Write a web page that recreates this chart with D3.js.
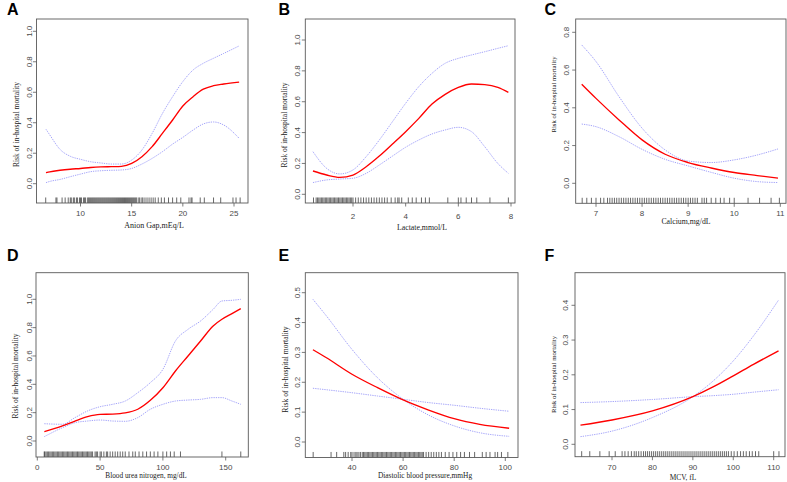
<!DOCTYPE html>
<html><head><meta charset="utf-8">
<script src="https://cdn.jsdelivr.net/npm/d3@7"></script>
<style>body{margin:0;background:#fff}svg{display:block}</style></head>
<body><svg id="c" width="787" height="482"></svg>
<script>
// ---------------- DATA ----------------
const panelLetters = ["A", "B", "C", "D", "E", "F"];
const xLabels = ["Anion Gap,mEq/L", "Lactate,mmol/L", "Calcium,mg/dL",
  "Blood urea nitrogen, mg/dL", "Diastolic blood pressure,mmHg", "MCV, fL"];
const yLabel = "Risk of in-hospital mortality";

const xTicksA = [10, 15, 20, 25];
const yTicksA = [0, 0.2, 0.4, 0.6, 0.8, 1.0];
const xA = [6.63, 7, 8, 9, 10, 11, 12, 13, 14, 15, 16, 17, 18, 19, 20, 21, 22, 23, 24, 25.5];
const fitA = [0.072, 0.078, 0.088, 0.095, 0.10, 0.106, 0.11, 0.112, 0.114, 0.133, 0.177, 0.243, 0.33, 0.418, 0.51, 0.571, 0.62, 0.643, 0.654, 0.667];
const upA = [0.357, 0.32, 0.225, 0.18, 0.16, 0.144, 0.136, 0.129, 0.129, 0.155, 0.221, 0.33, 0.46, 0.571, 0.67, 0.746, 0.79, 0.823, 0.855, 0.904];
const loA = [0.007, 0.015, 0.028, 0.046, 0.063, 0.079, 0.085, 0.088, 0.09, 0.10, 0.129, 0.166, 0.21, 0.26, 0.304, 0.352, 0.392, 0.405, 0.385, 0.298];
const rugA = [6.6, 7.6, 7.7, 8.2, 8.5, 8.8, 9.0, 9.1, 9.3, 9.4, 9.6, 9.7, 9.9, 10.0, 10.1, 10.3, 10.4, 10.5, 10.7, 10.8, 10.9, 11.0, 11.1, 11.2, 11.3, 11.4, 11.5, 11.6, 11.7, 11.8, 11.9, 12.0, 12.1, 12.2, 12.3, 12.4, 12.5, 12.6, 12.7, 12.8, 12.9, 13.0, 13.1, 13.2, 13.3, 13.4, 13.5, 13.6, 13.7, 13.8, 13.9, 14.0, 14.1, 14.2, 14.3, 14.4, 14.5, 14.6, 14.7, 14.8, 14.9, 15.0, 15.1, 15.2, 15.3, 15.4, 15.5, 15.7, 15.8, 16.0, 16.1, 16.3, 16.5, 16.7, 16.9, 17.1, 17.3, 17.6, 17.9, 18.2, 18.6, 19.0, 19.4, 19.8, 20.6, 20.8, 20.9, 21.7, 22.1, 23.0, 23.7, 24.9, 25.2, 25.6];

const xTicksB = [2, 4, 6, 8];
const yTicksB = [0, 0.2, 0.4, 0.6, 0.8, 1.0];
const xB = [0.48, 1, 1.5, 2, 2.5, 3, 3.5, 4, 4.5, 5, 5.5, 6, 6.5, 7, 7.5, 7.9];
const fitB = [0.151, 0.125, 0.11, 0.125, 0.179, 0.248, 0.326, 0.406, 0.492, 0.585, 0.648, 0.693, 0.715, 0.711, 0.693, 0.661];
const upB = [0.276, 0.168, 0.132, 0.158, 0.244, 0.352, 0.471, 0.59, 0.698, 0.784, 0.849, 0.881, 0.903, 0.924, 0.946, 0.963];
const loB = [0.076, 0.093, 0.099, 0.104, 0.136, 0.19, 0.248, 0.305, 0.352, 0.391, 0.417, 0.434, 0.406, 0.309, 0.2, 0.136];
const rugB = [0.5, 0.6, 0.65, 0.7, 0.75, 0.8, 0.85, 0.9, 0.95, 1.0, 1.05, 1.1, 1.15, 1.2, 1.25, 1.3, 1.35, 1.4, 1.45, 1.5, 1.55, 1.6, 1.65, 1.7, 1.75, 1.8, 1.85, 1.9, 1.95, 2.0, 2.1, 2.2, 2.3, 2.4, 2.5, 2.6, 2.7, 2.8, 2.9, 3.0, 3.1, 3.2, 3.3, 3.45, 3.6, 3.7, 3.75, 3.85, 4.1, 4.25, 4.4, 4.6, 4.75, 4.9, 5.6, 6.0, 6.1, 6.3, 6.5, 6.7, 7.2, 7.9];

const xTicksC = [7, 8, 9, 10, 11];
const yTicksC = [0, 0.2, 0.4, 0.6, 0.8];
const xC = [6.69, 7, 7.5, 8, 8.5, 9, 9.5, 10, 10.5, 10.95];
const fitC = [0.525, 0.45, 0.336, 0.23, 0.154, 0.11, 0.081, 0.057, 0.041, 0.027];
const upC = [0.733, 0.645, 0.459, 0.292, 0.177, 0.118, 0.11, 0.124, 0.15, 0.182];
const loC = [0.314, 0.30, 0.247, 0.18, 0.127, 0.092, 0.058, 0.027, 0.009, 0.004];
const rugC = [6.7, 6.8, 6.9, 7.0, 7.1, 7.17, 7.25, 7.3, 7.35, 7.4, 7.45, 7.5, 7.55, 7.6, 7.65, 7.7, 7.75, 7.8, 7.85, 7.9, 7.95, 8.0, 8.05, 8.1, 8.15, 8.2, 8.25, 8.3, 8.35, 8.4, 8.45, 8.5, 8.55, 8.6, 8.65, 8.7, 8.75, 8.8, 8.85, 8.9, 8.95, 9.0, 9.05, 9.1, 9.15, 9.2, 9.3, 9.35, 9.4, 9.5, 9.6, 9.7, 9.78, 9.9, 10.0, 10.3, 10.55, 10.8, 10.98];

const xTicksD = [0, 50, 100, 150];
const yTicksD = [0, 0.2, 0.4, 0.6, 0.8, 1.0];
const xD = [5.6, 20, 30, 40, 50, 60, 70, 80, 90, 100, 110, 120, 130, 140, 147, 155, 162];
const fitD = [0.066, 0.106, 0.141, 0.172, 0.188, 0.19, 0.198, 0.224, 0.287, 0.376, 0.494, 0.6, 0.706, 0.812, 0.859, 0.899, 0.934];
const upD = [0.122, 0.118, 0.165, 0.212, 0.242, 0.259, 0.282, 0.341, 0.412, 0.506, 0.706, 0.788, 0.847, 0.929, 0.988, 0.993, 1.0];
const loD = [0.031, 0.094, 0.129, 0.141, 0.148, 0.141, 0.139, 0.165, 0.224, 0.259, 0.282, 0.289, 0.294, 0.306, 0.306, 0.282, 0.259];
const rugD = [5.5, 6, 7, 8, 9, 10, 11, 12, 13, 14, 15, 16, 17, 18, 19, 20, 21, 22, 23, 24, 25, 26, 27, 28, 29, 30, 31, 32, 33, 34, 35, 36, 37, 38, 39, 40, 41, 42, 43, 44, 46, 47, 48, 50, 51, 53, 55, 56, 58, 60, 62, 64, 66, 68, 70, 73, 76, 78, 81, 84, 87, 90, 93, 96, 100, 103, 106, 109, 114, 147, 162];

const xTicksE = [40, 60, 80, 100];
const yTicksE = [0, 0.1, 0.2, 0.3, 0.4, 0.5];
const xE = [24.7, 30, 40, 50, 60, 70, 80, 90, 101.5];
const fitE = [0.309, 0.282, 0.227, 0.182, 0.141, 0.107, 0.078, 0.059, 0.046];
const upE = [0.478, 0.422, 0.31, 0.215, 0.143, 0.09, 0.054, 0.031, 0.019];
const loE = [0.18, 0.175, 0.165, 0.154, 0.143, 0.132, 0.123, 0.113, 0.103];
const rugE = [24.8, 31.8, 34, 36.8, 37.5, 38.5, 39.5, 40, 40.8, 41.5, 42, 42.7, 43.3, 44, 44.5, 45, 45.5, 46, 46.5, 47, 47.5, 48, 48.5, 49, 49.5, 50, 50.5, 51, 51.5, 52, 52.5, 53, 53.5, 54, 54.5, 55, 55.5, 56, 56.5, 57, 57.5, 58, 58.5, 59, 59.5, 60, 60.5, 61, 61.5, 62, 62.5, 63, 63.5, 64, 64.5, 65, 65.5, 66, 66.5, 67, 67.5, 68, 69, 70, 71, 72, 73, 74, 75, 76.5, 78, 79.5, 81, 82.5, 84, 86, 88, 91, 92.5, 94, 96, 97, 98.5, 101];

const xTicksF = [70, 80, 90, 100, 110];
const yTicksF = [0, 0.1, 0.2, 0.3, 0.4];
const xF = [62.2, 70, 80, 90, 95, 100, 105, 111.2];
const fitF = [0.055, 0.07, 0.096, 0.137, 0.165, 0.197, 0.23, 0.269];
const upF = [0.022, 0.038, 0.077, 0.137, 0.182, 0.24, 0.312, 0.415];
const loF = [0.12, 0.123, 0.129, 0.137, 0.14, 0.144, 0.15, 0.157];
const rugF = [62.5, 64.5, 67, 69.3, 70.8, 72.5, 73.2, 74, 74.8, 75.5, 76, 76.6, 77.2, 77.8, 78.3, 78.8, 79.3, 79.8, 80.3, 80.8, 81.3, 81.8, 82.3, 82.8, 83.3, 83.8, 84.3, 84.8, 85.3, 85.8, 86.3, 86.8, 87.3, 87.8, 88.3, 88.8, 89.3, 89.8, 90.3, 90.8, 91.3, 91.8, 92.3, 92.8, 93.3, 93.8, 94.3, 94.8, 95.3, 95.8, 96.3, 96.8, 97.3, 97.8, 98.3, 98.8, 99.5, 100.2, 101, 101.8, 102.5, 103.2, 104, 104.7, 105.5, 106.3, 110, 111.3];

// ---------------- LAYOUT (pixel geometry only) ----------------
const layouts = [
  {box:[36.5,19,248,203], xr:[10,80.5,25,234], yr:[0,183.7,1,31.3], letter:[7,15], xl:[154,228,8], yl:[18.5,124.5,7.5], ytx:31.5, xty:216},
  {box:[305.3,19,515,203], xr:[2,353,8,511], yr:[0,194.3,1,40], letter:[278.5,15], xl:[422,230,7.8], yl:[287,125,7.5], ytx:300.3, xty:218.5},
  {box:[575.7,19,786,203.3], xr:[7,596,11,780.3], yr:[0,183.3,0.8,32.3], letter:[544.5,15], xl:[686,224,7.8], yl:[555.5,94.5,6.7], ytx:569, xty:215.5},
  {box:[36,272.7,248.3,457], xr:[0,37.3,150,225.7], yr:[0,441,1,299.3], letter:[7,260.5], xl:[146,478,7.3], yl:[18.3,376,7.5], ytx:31.7, xty:469.5},
  {box:[305.3,272.7,518,457.5], xr:[40,352,100,505.3], yr:[0,442,0.5,292.7], letter:[278.5,260.5], xl:[425,478,7.4], yl:[287.5,369.5,7.6], ytx:300.3, xty:470},
  {box:[575,272.7,785,456.7], xr:[70,612,110,773.7], yr:[0,444.3,0.4,305.3], letter:[544.5,260.5], xl:[683,479.5,7.4], yl:[555.5,374.5,6.8], ytx:568.3, xty:470}
];

const panels = [
  {x:xA, fit:fitA, ci1:upA, ci2:loA, rug:rugA, xt:xTicksA, yt:yTicksA},
  {x:xB, fit:fitB, ci1:upB, ci2:loB, rug:rugB, xt:xTicksB, yt:yTicksB},
  {x:xC, fit:fitC, ci1:upC, ci2:loC, rug:rugC, xt:xTicksC, yt:yTicksC},
  {x:xD, fit:fitD, ci1:upD, ci2:loD, rug:rugD, xt:xTicksD, yt:yTicksD},
  {x:xE, fit:fitE, ci1:upE, ci2:loE, rug:rugE, xt:xTicksE, yt:yTicksE},
  {x:xF, fit:fitF, ci1:upF, ci2:loF, rug:rugF, xt:xTicksF, yt:yTicksF}
];

const svg = d3.select("#c");
const SANS = "'Liberation Sans', Arial, Helvetica, sans-serif";
const SERIF = "'Liberation Serif', 'Times New Roman', serif";
const boxCol = "#5a5a5a", tickTxt = "#4a4a4a";

panels.forEach((p, i) => {
  const L = layouts[i];
  const [bl, bt, br, bb] = L.box;
  const x = d3.scaleLinear().domain([L.xr[0], L.xr[2]]).range([L.xr[1], L.xr[3]]);
  const y = d3.scaleLinear().domain([L.yr[0], L.yr[2]]).range([L.yr[1], L.yr[3]]);
  const g = svg.append("g");

  const clipId = "clip" + i;
  svg.append("clipPath").attr("id", clipId).append("rect")
    .attr("x", bl).attr("y", bt).attr("width", br - bl).attr("height", bb - bt);

  // rug
  const rugLen = 0.03 * (bb - bt);
  g.append("g").selectAll("line").data(p.rug).join("line")
    .attr("x1", d => x(d)).attr("x2", d => x(d))
    .attr("y1", bb).attr("y2", bb - rugLen)
    .attr("stroke", "#000").attr("stroke-width", 0.8).attr("stroke-opacity", 0.75);

  const pts = (ys) => p.x.map((v, k) => [x(v), y(ys[k])]);
  const line = d3.line().curve(d3.curveMonotoneX);
  const plot = g.append("g").attr("clip-path", `url(#${clipId})`);
  [p.ci1, p.ci2].forEach(s => {
    plot.append("path").attr("d", line(pts(s))).attr("fill", "none")
      .attr("stroke", "#9a9af8").attr("stroke-width", 0.9).attr("stroke-dasharray", "1.3,1");
  });
  plot.append("path").attr("d", line(pts(p.fit))).attr("fill", "none")
    .attr("stroke", "#ff0000").attr("stroke-width", 1.35);

  // box
  g.append("rect").attr("x", bl).attr("y", bt).attr("width", br - bl).attr("height", bb - bt)
    .attr("fill", "none").attr("stroke", boxCol).attr("stroke-width", 0.9);

  // x axis ticks
  const xa = g.append("g");
  xa.selectAll("line").data(p.xt).join("line")
    .attr("x1", d => x(d)).attr("x2", d => x(d)).attr("y1", bb).attr("y2", bb + 3.5)
    .attr("stroke", boxCol).attr("stroke-width", 0.8);
  xa.selectAll("text").data(p.xt).join("text")
    .attr("x", d => x(d)).attr("y", L.xty).attr("text-anchor", "middle")
    .attr("font-family", SANS).attr("font-size", 8).attr("fill", tickTxt)
    .text(d => d3.format("d")(d));

  // y axis ticks
  const ya = g.append("g");
  ya.selectAll("line").data(p.yt).join("line")
    .attr("x1", bl).attr("x2", bl - 3.5).attr("y1", d => y(d)).attr("y2", d => y(d))
    .attr("stroke", boxCol).attr("stroke-width", 0.8);
  ya.selectAll("text").data(p.yt).join("text")
    .attr("transform", d => `translate(${L.ytx},${y(d)}) rotate(-90)`)
    .attr("text-anchor", "middle")
    .attr("font-family", SANS).attr("font-size", 8).attr("fill", tickTxt)
    .text(d => d3.format(".1f")(d));

  // labels
  g.append("text").attr("x", L.xl[0]).attr("y", L.xl[1]).attr("text-anchor", "middle")
    .attr("font-family", SERIF).attr("font-size", L.xl[2]).attr("fill", "#222").text(xLabels[i]);
  g.append("text").attr("transform", `translate(${L.yl[0]},${L.yl[1]}) rotate(-90)`)
    .attr("text-anchor", "middle")
    .attr("font-family", SERIF).attr("font-size", L.yl[2]).attr("fill", "#222").text(yLabel);
  g.append("text").attr("x", L.letter[0]).attr("y", L.letter[1])
    .attr("font-family", SANS).attr("font-weight", "bold").attr("font-size", 16)
    .attr("fill", "#000").text(panelLetters[i]);
});
</script>
</body></html>
